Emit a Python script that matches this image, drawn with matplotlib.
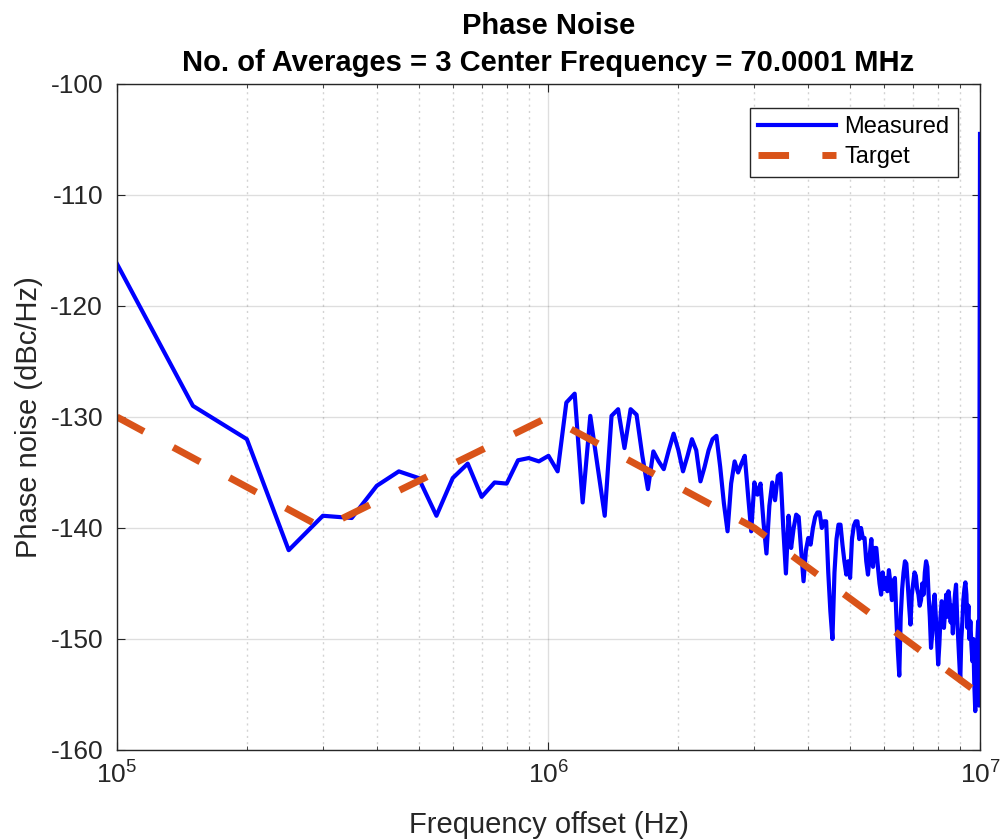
import numpy as np
import matplotlib
matplotlib.use("Agg")
import matplotlib.pyplot as plt
from matplotlib.ticker import LogLocator, NullFormatter

plt.rcParams["font.family"] = ["Liberation Sans", "DejaVu Sans"]
plt.rcParams["axes.unicode_minus"] = False
plt.rcParams["mathtext.fontset"] = "custom"
plt.rcParams["mathtext.rm"] = "Liberation Sans"

# measured phase noise, 50 kHz grid from 100 kHz to 10 MHz
freq_start = 1e5
freq_step = 5e4
measured_low = [
    -116.2, -129.0, -132.0, -142.0, -138.9, -139.1, -136.2, -134.9, -135.5,
    -138.9, -135.5, -134.2, -137.2, -135.9, -136.0, -133.9, -133.7, -134.0,
]
measured_high = [
    -133.5, -134.9, -128.7, -127.9, -137.7, -129.9, -134.5, -138.9, -129.9, -129.3,
    -132.8, -129.3, -129.8, -133.5, -136.5, -133.1, -134.0, -134.7, -133.0, -131.5,
    -133.0, -134.9, -133.5, -132.0, -133.0, -135.8, -134.5, -133.0, -132.0, -131.7,
    -134.5, -137.8, -140.3, -136.0, -134.0, -135.0, -134.2, -133.5, -137.0, -140.3,
    -135.9, -137.0, -136.0, -139.5, -142.3, -138.0, -135.9, -137.5, -135.3, -135.1,
    -140.0, -144.1, -138.9, -141.8, -140.0, -138.8, -139.0, -142.0, -144.8, -142.0,
    -140.9, -141.5, -140.0, -139.0, -138.6, -138.6, -140.0, -139.4, -139.4, -144.0,
    -147.5, -150.0, -144.0, -141.0, -139.7, -139.7, -141.5, -143.0, -144.2, -143.0,
    -144.5, -141.0, -139.8, -139.4, -139.4, -141.0, -140.0, -140.9, -140.9, -143.0,
    -144.2, -142.5, -141.0, -143.5, -141.8, -141.8, -143.5, -145.0, -146.0, -144.0,
    -145.5, -144.5, -145.7, -143.8, -145.0, -146.5, -144.8, -144.5, -148.0, -151.0,
    -153.3, -148.0, -145.5, -144.0, -143.0, -143.2, -145.0, -147.0, -148.7, -146.0,
    -145.0, -144.0, -144.3, -145.5, -146.0, -147.0, -146.5, -145.0, -146.0, -144.0,
    -143.0, -143.5, -146.0, -148.0, -150.8, -149.5, -147.0, -146.0, -148.0, -150.0,
    -152.3, -150.5, -148.0, -146.6, -147.0, -149.0, -147.5, -146.0, -148.0, -145.7,
    -146.5, -148.5, -147.0, -149.5, -147.5, -146.0, -145.1, -148.0, -150.0, -152.0,
    -153.8, -150.0, -148.5, -146.5, -145.5, -144.9, -146.0, -149.0, -147.0, -150.0,
    -148.4, -150.5, -152.0, -150.0, -154.0, -156.5, -152.0, -150.5, -148.4, -156.0,
    -104.5,
]

target_freq = [1e5, 3e5, 1e6, 3e6, 1e7]
target_level = [-130, -140, -130, -140, -155]

title_lines = ["Phase Noise", "No. of Averages = 3 Center Frequency = 70.0001 MHz"]

measured = measured_low + measured_high
freq = freq_start + freq_step * np.arange(len(measured))

fig = plt.figure(figsize=(10.04, 8.39), dpi=100)
ax = fig.add_axes([0.1165, 0.1061, 0.8596, 0.7938])

ax.plot(freq, measured, color="#0000FF", linewidth=3.0, label="Measured")
ax.plot(target_freq, target_level, color="#D95319", linewidth=5,
        linestyle=(0, (4.4, 4.8)), label="Target")

ax.set_xscale("log")
ax.set_xlim(1e5, 1e7)
ax.set_ylim(-160, -100)
ax.set_yticks(np.arange(-160, -99, 10))
ax.xaxis.set_minor_locator(LogLocator(base=10, subs=np.arange(2, 10)))
ax.xaxis.set_minor_formatter(NullFormatter())

ax.grid(True, which="major", color="#262626", alpha=0.15, linewidth=1)
ax.grid(True, which="minor", axis="x", color="#262626", alpha=0.2,
        linewidth=1, linestyle=(0, (1.5, 3)))
ax.set_axisbelow(True)

ax.tick_params(which="both", direction="in", top=True, right=True,
               color="#262626", labelcolor="#262626", labelsize=19)
ax.tick_params(which="major", length=6)
ax.tick_params(axis="x", which="major", pad=8)
ax.tick_params(axis="y", which="major", pad=10)
ax.tick_params(which="minor", length=3)
for spine in ax.spines.values():
    spine.set_color("#262626")
    spine.set_linewidth(1)

ax.set_xlabel("Frequency offset (Hz)", fontsize=21, color="#262626", labelpad=16)
ax.set_ylabel("Phase noise (dBc/Hz)", fontsize=21, color="#262626", labelpad=5)
ax.set_title("\n".join(title_lines), fontsize=21, fontweight="bold",
             color="black", pad=9, linespacing=1.45)

legend = ax.legend(loc="upper right", bbox_to_anchor=(0.9745, 0.964),
                   borderaxespad=0, fontsize=17, handlelength=3.3,
                   handletextpad=0.35, borderpad=0.35, labelspacing=0.35,
                   fancybox=False, framealpha=1, edgecolor="#262626")
legend.get_frame().set_linewidth(1)

fig.savefig("out.png", dpi=100)
plt.close(fig)
